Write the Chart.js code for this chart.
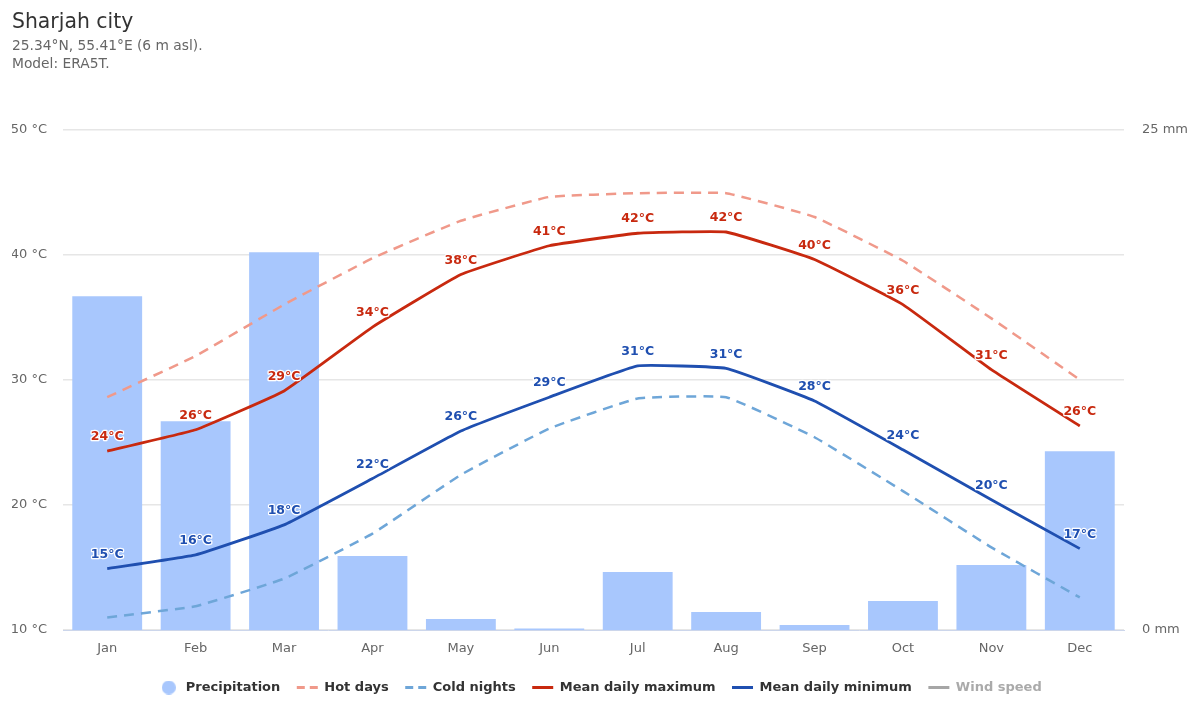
<!DOCTYPE html>
<html>
<head>
<meta charset="utf-8">
<title>Sharjah city</title>
<script src="https://cdn.jsdelivr.net/npm/chart.js@4"></script>
<style>
  html, body { margin: 0; padding: 0; background: #fff; }
  #wrap { width: 1200px; height: 720px; }
</style>
</head>
<body>
<div id="wrap"><canvas id="climate"></canvas></div>
<script>
const months = ["Jan", "Feb", "Mar", "Apr", "May", "Jun", "Jul", "Aug", "Sep", "Oct", "Nov", "Dec"];
const precipitation = [16.67, 10.43, 18.86, 3.69, 0.55, 0.07, 2.9, 0.9, 0.25, 1.45, 3.24, 8.93];
const hotDays = [28.6, 31.9, 36, 39.7, 42.7, 44.6, 44.9, 44.9, 43, 39.5, 34.9, 30];
const coldNights = [11, 11.9, 14.1, 17.7, 22.4, 26.1, 28.5, 28.6, 25.4, 21.1, 16.6, 12.6];
const meanMax = [24.3, 26, 29.1, 34.2, 38.4, 40.7, 41.7, 41.8, 39.6, 36, 30.8, 26.3];
const meanMin = [14.9, 16, 18.4, 22.1, 25.9, 28.6, 31.1, 30.9, 28.3, 24.4, 20.4, 16.5];
const windSpeed = [];

const FONT = "'DejaVu Sans', sans-serif";
const BAR_COLOR = "#a8c7fd";

// round swatch for the legend, pointStyleWidth would stretch a plain circle
const dot = document.createElement("canvas");
dot.width = 14;
dot.height = 14;
const dotCtx = dot.getContext("2d");
dotCtx.fillStyle = BAR_COLOR;
dotCtx.arc(7, 7, 7, 0, Math.PI * 2);
dotCtx.fill();

// temperature labels above the two mean lines, white halo like the original
const pointLabels = {
    id: "pointLabels",
    afterDatasetsDraw(chart) {
        const ctx = chart.ctx;
        ctx.save();
        ctx.font = "bold 12.5px " + FONT;
        ctx.textAlign = "center";
        ctx.textBaseline = "middle";
        ctx.lineJoin = "round";
        chart.data.datasets.forEach((ds, i) => {
            if (!ds.showValues) return;
            chart.getDatasetMeta(i).data.forEach((pt, k) => {
                const text = Math.round(ds.data[k]) + "°C";
                ctx.lineWidth = 2.5;
                ctx.strokeStyle = "#fff";
                ctx.strokeText(text, pt.x, pt.y - 14);
                ctx.fillStyle = ds.borderColor;
                ctx.fillText(text, pt.x, pt.y - 14);
            });
        });
        ctx.restore();
    }
};

new Chart(document.getElementById("climate"), {
    data: {
        labels: months,
        datasets: [
            { type: "bar", label: "Precipitation", data: precipitation, yAxisID: "y1", order: 5,
              backgroundColor: BAR_COLOR, barPercentage: 0.79, categoryPercentage: 1 },
            { type: "line", label: "Hot days", data: hotDays, yAxisID: "y", order: 4,
              borderColor: "#f0998a", borderWidth: 2.5, borderDash: [10, 7], tension: 0.1, pointRadius: 0 },
            { type: "line", label: "Cold nights", data: coldNights, yAxisID: "y", order: 3,
              borderColor: "#6ea6d8", borderWidth: 2.5, borderDash: [10, 7], tension: 0.1, pointRadius: 0 },
            { type: "line", label: "Mean daily maximum", data: meanMax, yAxisID: "y", order: 2,
              borderColor: "#c8290f", borderWidth: 2.8, tension: 0.1, pointRadius: 0, showValues: true },
            { type: "line", label: "Mean daily minimum", data: meanMin, yAxisID: "y", order: 1,
              borderColor: "#1f4fb0", borderWidth: 2.8, tension: 0.1, pointRadius: 0, showValues: true },
            { type: "line", label: "Wind speed", data: windSpeed, yAxisID: "y", order: 0,
              borderColor: "#a6a6a6", borderWidth: 2.8, pointRadius: 0, inactive: true }
        ]
    },
    options: {
        responsive: true,
        maintainAspectRatio: false,
        animation: false,
        layout: { padding: { left: 12, right: 12, top: 10, bottom: 16 } },
        plugins: {
            title: {
                display: true,
                text: "Sharjah city",
                align: "start",
                color: "#333",
                font: { family: FONT, size: 20.4, weight: "normal" },
                padding: { top: 0, bottom: 3 }
            },
            subtitle: {
                display: true,
                text: ["25.34°N, 55.41°E (6 m asl).", "Model: ERA5T."],
                align: "start",
                color: "#666",
                font: { family: FONT, size: 13.8, weight: "normal", lineHeight: 1.3 },
                padding: { bottom: 56 }
            },
            legend: {
                position: "bottom",
                labels: {
                    usePointStyle: true,
                    boxHeight: 10,
                    pointStyleWidth: 21,
                    padding: 16.5,
                    font: { family: FONT, size: 13, weight: "bold" },
                    color: "#333",
                    generateLabels(chart) {
                        return chart.data.datasets.map((ds, i) => ({
                            text: ds.label,
                            datasetIndex: i,
                            fillStyle: ds.type === "bar" ? ds.backgroundColor : ds.borderColor,
                            strokeStyle: ds.type === "bar" ? ds.backgroundColor : ds.borderColor,
                            lineWidth: ds.type === "bar" ? 0 : 2.8,
                            lineDash: ds.borderDash ? [8, 5] : [],
                            pointStyle: ds.type === "bar" ? dot : "line",
                            fontColor: ds.inactive ? "#aaa" : "#333",
                            hidden: false
                        }));
                    }
                }
            },
            tooltip: { enabled: false }
        },
        scales: {
            x: {
                offset: true,
                afterFit(scale) { scale.height = 34.5; },
                grid: { display: false, drawTicks: false },
                border: { color: "#ccd6eb", width: 1 },
                ticks: { color: "#666", padding: 11, font: { family: FONT, size: 13 } }
            },
            y: {
                position: "left",
                min: 10,
                max: 50,
                afterFit(scale) { scale.width = 51; },
                grid: { color: "#e6e6e6", lineWidth: 1.5, drawTicks: false },
                border: { display: false },
                ticks: { stepSize: 10, color: "#666", padding: 16, font: { family: FONT, size: 13 },
                         callback: v => v + " °C" }
            },
            y1: {
                position: "right",
                min: 0,
                max: 25,
                afterFit(scale) { scale.width = 64; },
                grid: { display: false, drawTicks: false },
                border: { display: false },
                ticks: { stepSize: 25, color: "#666", padding: 18, font: { family: FONT, size: 13 },
                         callback: v => v + " mm" }
            }
        }
    },
    plugins: [pointLabels]
});
</script>
</body>
</html>
